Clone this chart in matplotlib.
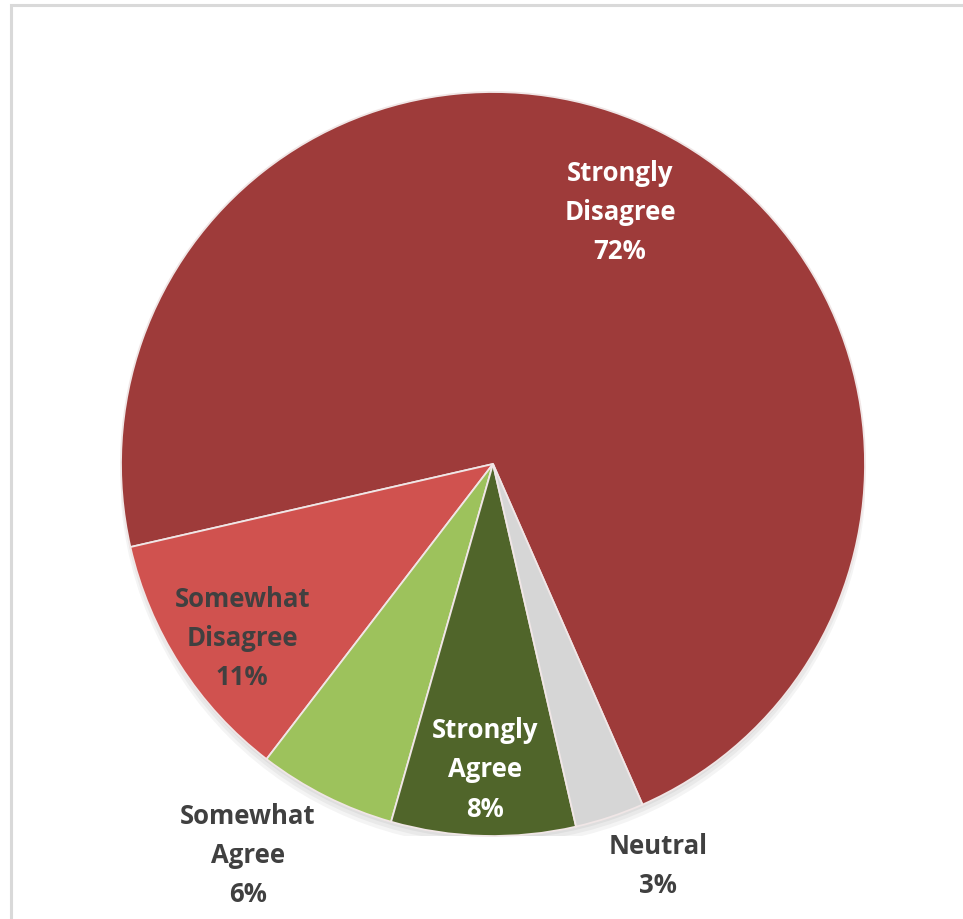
import numpy as np
import matplotlib
matplotlib.use("Agg")
import matplotlib.pyplot as plt
from matplotlib.patches import Circle, Rectangle

# survey responses, in drawing order (counter-clockwise)
categories = ["Strongly\nDisagree", "Somewhat\nDisagree", "Somewhat\nAgree",
              "Strongly\nAgree", "Neutral"]
shares = [72, 11, 6, 8, 3]

colors = ["#9E3B3A", "#D0524F", "#9DC25C", "#50652A", "#D6D6D6"]
text_colors = ["white", "#404040", "#404040", "white", "#404040"]
label_radius = [0.76, 0.82, 1.24, 0.82, 1.165]
label_shift = [0.0, 2.0, -5.4, 0.0, 4.1]

plt.rcParams["font.family"] = ["Open Sans", "DejaVu Sans"]

fig = plt.figure(figsize=(9.63, 9.2), dpi=100)
fig.patch.set_facecolor("white")

# light frame around the chart area
fig.patches.append(Rectangle((0.0114, -0.05), 1.1, 1.0435, transform=fig.transFigure,
                             fill=False, edgecolor="#D9D9D9", linewidth=2.2,
                             clip_on=False))

ax = fig.add_axes([121 / 963, 83 / 920, 744 / 963, 744 / 920])

# soft shadow beneath the pie
for i in range(3):
    ax.add_patch(Circle((0.0, -0.014 - 0.006 * i), 0.995 + 0.004 * i,
                        facecolor="black", alpha=0.045, edgecolor="none", zorder=0))

wedges, _ = ax.pie(shares, colors=colors, startangle=-66.3, counterclock=True,
                   radius=1.0, wedgeprops=dict(edgecolor="#F0E6E6", linewidth=1.3))
for w in wedges:
    w.set_zorder(2)

for w, label, share, tc, r, shift in zip(wedges, categories, shares, text_colors,
                                         label_radius, label_shift):
    ang = np.deg2rad((w.theta1 + w.theta2) / 2 + shift)
    ax.text(r * np.cos(ang), r * np.sin(ang), f"{label}\n{share}%",
            ha="center", va="center", color=tc, fontsize=18.5, fontweight="bold",
            linespacing=1.58, zorder=5)

ax.set_xlim(-1, 1)
ax.set_ylim(-1, 1)
ax.set_aspect("equal")
ax.axis("off")

fig.savefig("out.png", dpi=100, facecolor="white")
